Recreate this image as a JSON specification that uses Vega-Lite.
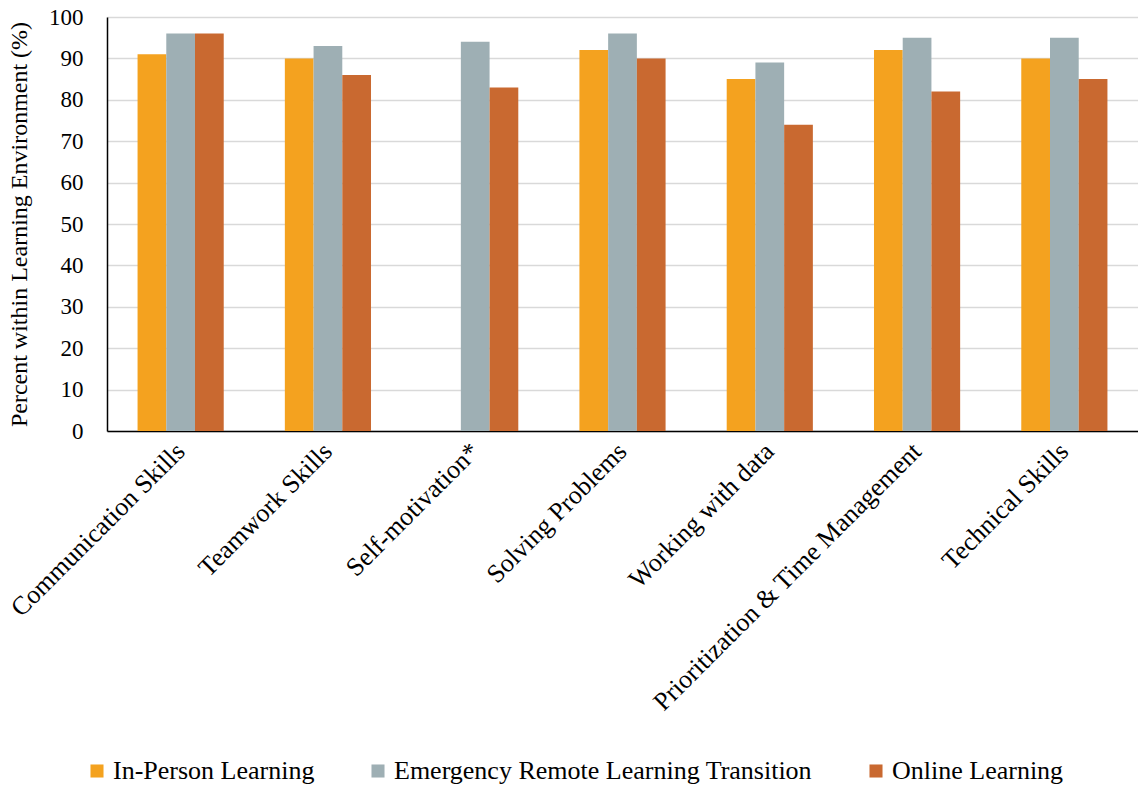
{
  "$schema": "https://vega.github.io/schema/vega-lite/v6.json",
  "autosize": {"type": "none"},
  "width": 1031,
  "height": 414,
  "padding": {"left": 107, "top": 17, "right": 0, "bottom": 357},
  "background": "white",
  "config": {
    "font": "Liberation Serif",
    "axis": {"labelFont": "Liberation Serif", "titleFont": "Liberation Serif"},
    "legend": {"labelFont": "Liberation Serif", "titleFont": "Liberation Serif"},
    "view": {"stroke": null}
  },
  "data": {
    "values": [
      {"skill": "Communication Skills", "env": "In-Person Learning", "pct": 91},
      {"skill": "Communication Skills", "env": "Emergency Remote Learning Transition", "pct": 96},
      {"skill": "Communication Skills", "env": "Online Learning", "pct": 96},
      {"skill": "Teamwork Skills", "env": "In-Person Learning", "pct": 90},
      {"skill": "Teamwork Skills", "env": "Emergency Remote Learning Transition", "pct": 93},
      {"skill": "Teamwork Skills", "env": "Online Learning", "pct": 86},
      {"skill": "Self-motivation*", "env": "Emergency Remote Learning Transition", "pct": 94},
      {"skill": "Self-motivation*", "env": "Online Learning", "pct": 83},
      {"skill": "Solving Problems", "env": "In-Person Learning", "pct": 92},
      {"skill": "Solving Problems", "env": "Emergency Remote Learning Transition", "pct": 96},
      {"skill": "Solving Problems", "env": "Online Learning", "pct": 90},
      {"skill": "Working with data", "env": "In-Person Learning", "pct": 85},
      {"skill": "Working with data", "env": "Emergency Remote Learning Transition", "pct": 89},
      {"skill": "Working with data", "env": "Online Learning", "pct": 74},
      {"skill": "Prioritization & Time Management", "env": "In-Person Learning", "pct": 92},
      {"skill": "Prioritization & Time Management", "env": "Emergency Remote Learning Transition", "pct": 95},
      {"skill": "Prioritization & Time Management", "env": "Online Learning", "pct": 82},
      {"skill": "Technical Skills", "env": "In-Person Learning", "pct": 90},
      {"skill": "Technical Skills", "env": "Emergency Remote Learning Transition", "pct": 95},
      {"skill": "Technical Skills", "env": "Online Learning", "pct": 85}
    ]
  },
  "mark": {"type": "bar"},
  "encoding": {
    "x": {
      "field": "skill",
      "type": "nominal",
      "sort": null,
      "scale": {"paddingInner": 0.415, "paddingOuter": 0.2075},
      "axis": {
        "title": null,
        "labelAngle": -45,
        "labelAlign": "right",
        "labelBaseline": "middle",
        "labelFont": "Liberation Serif",
        "labelFontSize": 26,
        "labelColor": "#000000",
        "labelPadding": 16,
        "labelLimit": 600,
        "ticks": false,
        "domainColor": "#000000",
        "domainWidth": 1.5,
        "grid": false
      }
    },
    "xOffset": {
      "field": "env",
      "type": "nominal",
      "scale": {"domain": ["In-Person Learning", "Emergency Remote Learning Transition", "Online Learning"], "paddingInner": 0, "paddingOuter": 0}
    },
    "y": {
      "field": "pct",
      "type": "quantitative",
      "scale": {"domain": [0, 100], "nice": false},
      "axis": {
        "title": "Percent within Learning Environment (%)",
        "titleFont": "Liberation Serif",
        "titleFontSize": 24,
        "titleFontWeight": "normal",
        "titleColor": "#000000",
        "titlePadding": 17,
        "values": [0, 10, 20, 30, 40, 50, 60, 70, 80, 90, 100],
        "labelFont": "Liberation Serif",
        "labelFontSize": 23,
        "labelColor": "#000000",
        "labelPadding": 24,
        "ticks": false,
        "domainColor": "#000000",
        "domainWidth": 1.5,
        "gridColor": "#d9d9d9",
        "gridWidth": 1.5
      }
    },
    "color": {
      "field": "env",
      "type": "nominal",
      "scale": {
        "domain": ["In-Person Learning", "Emergency Remote Learning Transition", "Online Learning"],
        "range": ["#F4A21F", "#9EAFB4", "#C96930"]
      },
      "legend": {
        "title": null,
        "orient": "none",
        "direction": "horizontal",
        "legendX": -23,
        "legendY": 741,
        "symbolType": "square",
        "symbolSize": 170,
        "symbolOpacity": 1,
        "labelFont": "Liberation Serif",
        "labelFontSize": 26,
        "labelColor": "#000000",
        "labelOffset": 3,
        "labelLimit": 700,
        "columnPadding": 50
      }
    }
  }
}
